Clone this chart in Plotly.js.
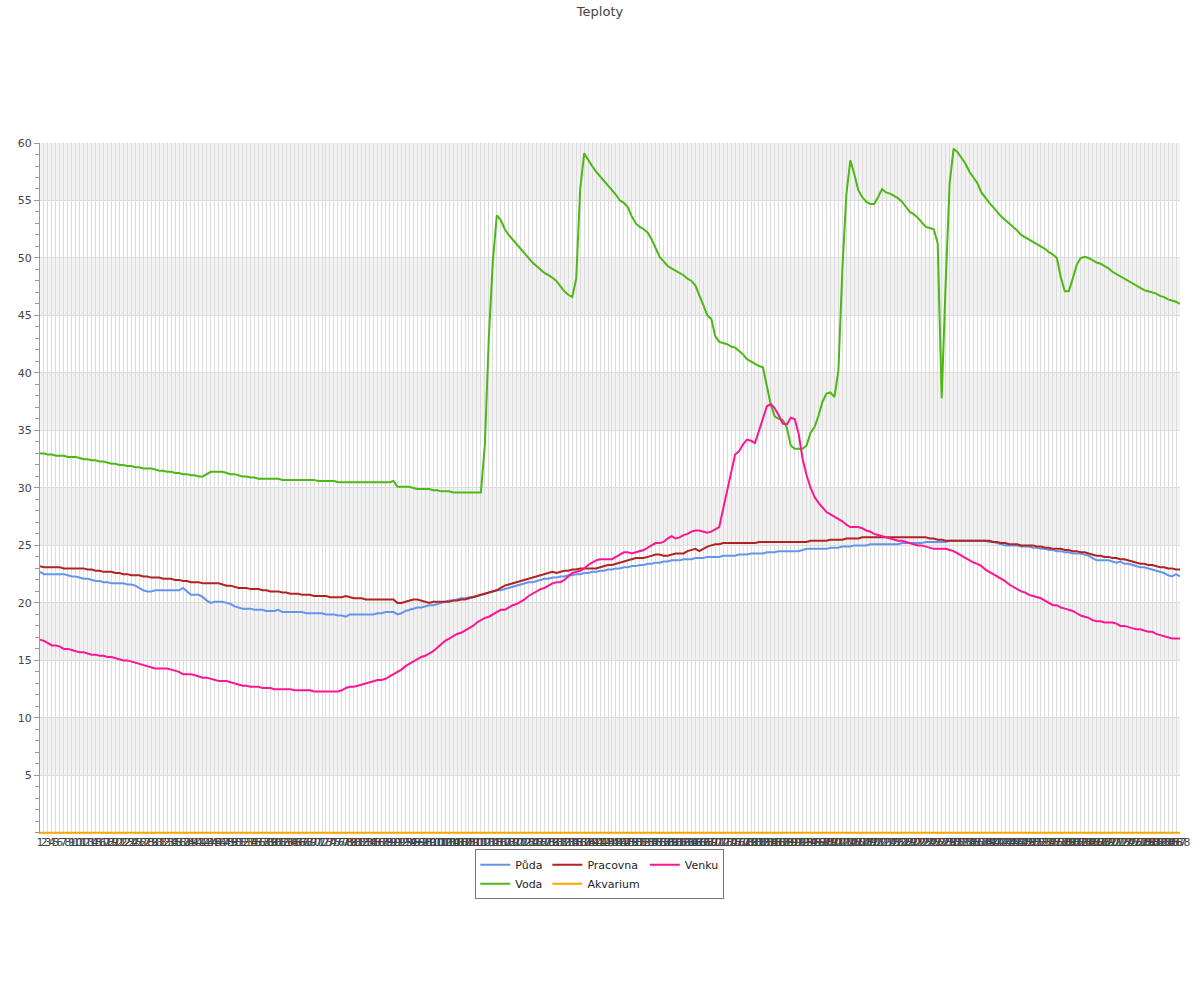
<!DOCTYPE html>
<html>
<head>
<meta charset="utf-8">
<script src="https://cdn.plot.ly/plotly-3.0.1.min.js"></script>
<style>html,body{margin:0;padding:0;background:#fff;}#chart{width:1200px;height:1000px;}</style>
</head>
<body>
<div id="chart"></div>
<script>
const xCats = [
1,2,3,4,5,6,7,8,9,10,11,12,13,14,15,16,17,18,19,20,
21,22,23,24,25,26,27,28,29,30,31,32,33,34,35,36,37,38,39,40,
41,42,43,44,45,46,47,48,49,50,51,52,53,54,55,56,57,58,59,60,
61,62,63,64,65,66,67,68,69,70,71,72,73,74,75,76,77,78,79,80,
81,82,83,84,85,86,87,88,89,90,91,92,93,94,95,96,97,98,99,100,
101,102,103,104,105,106,107,108,109,110,111,112,113,114,115,116,117,118,119,120,
121,122,123,124,125,126,127,128,129,130,131,132,133,134,135,136,137,138,139,140,
141,142,143,144,145,146,147,148,149,150,151,152,153,154,155,156,157,158,159,160,
161,162,163,164,165,166,167,168,169,170,171,172,173,174,175,176,177,178,179,180,
181,182,183,184,185,186,187,188,189,190,191,192,193,194,195,196,197,198,199,200,
201,202,203,204,205,206,207,208,209,210,211,212,213,214,215,216,217,218,219,220,
221,222,223,224,225,226,227,228,229,230,231,232,233,234,235,236,237,238,239,240,
241,242,243,244,245,246,247,248,249,250,251,252,253,254,255,256,257,258,259,260,
261,262,263,264,265,266,267,268,269,270,271,272,273,274,275,276,277,278,279,280,
281,282,283,284,285,286,287,288
];

const yTicks = [5, 10, 15, 20, 25, 30, 35, 40, 45, 50, 55, 60];

const puda = [
22.7,22.5,22.5,22.5,22.5,22.5,22.5,22.4,22.3,22.3,
22.2,22.1,22.1,22.0,21.9,21.9,21.8,21.8,21.7,21.7,
21.7,21.7,21.6,21.6,21.5,21.3,21.1,21.0,21.0,21.1,
21.1,21.1,21.1,21.1,21.1,21.1,21.3,21.0,20.7,20.7,
20.7,20.5,20.2,20.0,20.1,20.1,20.1,20.0,19.9,19.7,
19.6,19.5,19.5,19.5,19.4,19.4,19.4,19.3,19.3,19.3,
19.4,19.2,19.2,19.2,19.2,19.2,19.2,19.1,19.1,19.1,
19.1,19.1,19.0,19.0,19.0,18.9,18.9,18.8,19.0,19.0,
19.0,19.0,19.0,19.0,19.0,19.1,19.1,19.2,19.2,19.2,
19.0,19.1,19.3,19.4,19.5,19.6,19.6,19.7,19.8,19.8,
19.9,20.0,20.1,20.2,20.2,20.3,20.4,20.4,20.5,20.5,
20.6,20.7,20.8,20.9,21.0,21.1,21.1,21.2,21.3,21.4,
21.5,21.6,21.7,21.8,21.8,21.9,22.0,22.1,22.1,22.2,
22.2,22.3,22.3,22.4,22.4,22.5,22.5,22.6,22.6,22.7,
22.7,22.8,22.8,22.9,22.9,23.0,23.0,23.1,23.1,23.2,
23.2,23.3,23.3,23.4,23.4,23.5,23.5,23.6,23.6,23.7,
23.7,23.7,23.8,23.8,23.8,23.9,23.9,23.9,24.0,24.0,
24.0,24.0,24.1,24.1,24.1,24.1,24.2,24.2,24.2,24.3,
24.3,24.3,24.3,24.4,24.4,24.4,24.5,24.5,24.5,24.5,
24.5,24.5,24.6,24.7,24.7,24.7,24.7,24.7,24.7,24.8,
24.8,24.8,24.9,24.9,24.9,25.0,25.0,25.0,25.0,25.1,
25.1,25.1,25.1,25.1,25.1,25.1,25.1,25.2,25.2,25.2,
25.2,25.2,25.2,25.3,25.3,25.3,25.3,25.3,25.3,25.4,
25.4,25.4,25.4,25.4,25.4,25.4,25.4,25.4,25.4,25.3,
25.3,25.2,25.1,25.0,25.0,25.0,25.0,24.9,24.9,24.9,
24.8,24.8,24.7,24.7,24.6,24.6,24.5,24.5,24.4,24.4,
24.3,24.3,24.3,24.2,24.1,23.9,23.7,23.7,23.7,23.7,
23.6,23.5,23.6,23.4,23.4,23.3,23.2,23.1,23.1,23.0,
22.9,22.8,22.7,22.6,22.4,22.3,22.5,22.3
];

const voda = [
33.0,33.0,32.9,32.9,32.8,32.8,32.8,32.7,32.7,32.7,
32.6,32.5,32.5,32.4,32.4,32.3,32.3,32.2,32.1,32.1,
32.0,32.0,31.9,31.9,31.8,31.8,31.7,31.7,31.7,31.6,
31.5,31.5,31.4,31.4,31.3,31.3,31.2,31.2,31.1,31.1,
31.0,31.0,31.2,31.4,31.4,31.4,31.4,31.3,31.2,31.2,
31.1,31.0,31.0,30.9,30.9,30.8,30.8,30.8,30.8,30.8,
30.8,30.7,30.7,30.7,30.7,30.7,30.7,30.7,30.7,30.7,
30.6,30.6,30.6,30.6,30.6,30.5,30.5,30.5,30.5,30.5,
30.5,30.5,30.5,30.5,30.5,30.5,30.5,30.5,30.5,30.6,
30.1,30.1,30.1,30.1,30.0,29.9,29.9,29.9,29.9,29.8,
29.8,29.7,29.7,29.7,29.6,29.6,29.6,29.6,29.6,29.6,
29.6,29.6,33.8,43.1,49.7,53.7,53.3,52.5,52.0,51.6,
51.2,50.8,50.4,50.0,49.6,49.3,49.0,48.7,48.5,48.3,
48.0,47.5,47.1,46.8,46.6,48.2,56.0,59.1,58.5,58.0,
57.5,57.1,56.7,56.3,55.9,55.5,55.0,54.8,54.4,53.6,
53.0,52.7,52.5,52.2,51.6,50.8,50.1,49.7,49.3,49.1,
48.9,48.7,48.5,48.2,48.0,47.6,46.8,45.9,45.0,44.7,
43.2,42.7,42.6,42.5,42.3,42.2,41.9,41.6,41.2,41.0,
40.8,40.6,40.5,38.8,37.2,36.2,36.0,35.9,35.3,33.7,
33.4,33.4,33.4,33.7,34.8,35.3,36.3,37.5,38.2,38.3,
37.9,40.2,49.0,55.5,58.5,57.3,55.9,55.3,54.9,54.7,
54.7,55.3,56.0,55.7,55.6,55.4,55.2,54.9,54.5,54.0,
53.8,53.5,53.1,52.7,52.6,52.5,51.3,37.8,47.7,56.5,
59.5,59.2,58.7,58.2,57.5,57.0,56.5,55.7,55.2,54.8,
54.4,54.0,53.6,53.3,53.0,52.7,52.4,52.0,51.8,51.6,
51.4,51.2,51.0,50.8,50.5,50.3,50.0,48.3,47.1,47.1,
48.2,49.4,50.0,50.1,50.0,49.8,49.6,49.5,49.3,49.1,
48.8,48.6,48.4,48.2,48.0,47.8,47.6,47.4,47.2,47.1,
47.0,46.9,46.7,46.6,46.4,46.3,46.2,46.0
];

const pracovna = [
23.2,23.1,23.1,23.1,23.1,23.1,23.0,23.0,23.0,23.0,
23.0,23.0,22.9,22.9,22.8,22.8,22.7,22.7,22.7,22.6,
22.6,22.5,22.5,22.4,22.4,22.4,22.3,22.3,22.2,22.2,
22.2,22.1,22.1,22.1,22.0,22.0,21.9,21.9,21.8,21.8,
21.8,21.7,21.7,21.7,21.7,21.7,21.6,21.5,21.5,21.4,
21.3,21.3,21.3,21.2,21.2,21.2,21.1,21.1,21.0,21.0,
21.0,20.9,20.9,20.8,20.8,20.8,20.7,20.7,20.7,20.6,
20.6,20.6,20.6,20.5,20.5,20.5,20.5,20.6,20.5,20.4,
20.4,20.4,20.3,20.3,20.3,20.3,20.3,20.3,20.3,20.3,
20.0,20.0,20.1,20.2,20.3,20.3,20.2,20.1,20.0,20.1,
20.1,20.1,20.1,20.1,20.2,20.2,20.3,20.3,20.4,20.5,
20.6,20.7,20.8,20.9,21.0,21.1,21.3,21.5,21.6,21.7,
21.8,21.9,22.0,22.1,22.2,22.3,22.4,22.5,22.6,22.7,
22.6,22.7,22.8,22.8,22.9,22.9,23.0,23.0,23.0,23.0,
23.0,23.1,23.2,23.3,23.3,23.4,23.5,23.6,23.7,23.8,
23.9,23.9,23.9,24.0,24.1,24.2,24.2,24.1,24.1,24.2,
24.3,24.3,24.3,24.5,24.6,24.7,24.5,24.7,24.9,25.0,
25.1,25.1,25.2,25.2,25.2,25.2,25.2,25.2,25.2,25.2,
25.2,25.3,25.3,25.3,25.3,25.3,25.3,25.3,25.3,25.3,
25.3,25.3,25.3,25.3,25.4,25.4,25.4,25.4,25.4,25.5,
25.5,25.5,25.5,25.6,25.6,25.6,25.6,25.7,25.7,25.7,
25.7,25.7,25.7,25.7,25.7,25.7,25.7,25.7,25.7,25.7,
25.7,25.7,25.7,25.7,25.6,25.6,25.5,25.5,25.4,25.4,
25.4,25.4,25.4,25.4,25.4,25.4,25.4,25.4,25.4,25.4,
25.3,25.3,25.2,25.2,25.1,25.1,25.1,25.0,25.0,25.0,
25.0,24.9,24.9,24.8,24.8,24.7,24.7,24.7,24.6,24.6,
24.5,24.5,24.4,24.4,24.3,24.2,24.1,24.1,24.0,24.0,
23.9,23.9,23.8,23.8,23.7,23.6,23.5,23.4,23.4,23.3,
23.3,23.2,23.1,23.1,23.0,23.0,22.9,22.9
];

const akvarium = [
0,0,0,0,0,0,0,0,0,0,0,0,0,0,0,0,0,0,0,0,0,0,0,0,0,0,0,0,0,0,
0,0,0,0,0,0,0,0,0,0,0,0,0,0,0,0,0,0,0,0,0,0,0,0,0,0,0,0,0,0,
0,0,0,0,0,0,0,0,0,0,0,0,0,0,0,0,0,0,0,0,0,0,0,0,0,0,0,0,0,0,
0,0,0,0,0,0,0,0,0,0,0,0,0,0,0,0,0,0,0,0,0,0,0,0,0,0,0,0,0,0,
0,0,0,0,0,0,0,0,0,0,0,0,0,0,0,0,0,0,0,0,0,0,0,0,0,0,0,0,0,0,
0,0,0,0,0,0,0,0,0,0,0,0,0,0,0,0,0,0,0,0,0,0,0,0,0,0,0,0,0,0,
0,0,0,0,0,0,0,0,0,0,0,0,0,0,0,0,0,0,0,0,0,0,0,0,0,0,0,0,0,0,
0,0,0,0,0,0,0,0,0,0,0,0,0,0,0,0,0,0,0,0,0,0,0,0,0,0,0,0,0,0,
0,0,0,0,0,0,0,0,0,0,0,0,0,0,0,0,0,0,0,0,0,0,0,0,0,0,0,0,0,0,
0,0,0,0,0,0,0,0,0,0,0,0,0,0,0,0,0,0
];

const venku = [
16.8,16.7,16.5,16.3,16.3,16.2,16.0,16.0,15.9,15.8,
15.7,15.7,15.6,15.5,15.5,15.4,15.4,15.3,15.3,15.2,
15.1,15.0,15.0,14.9,14.8,14.7,14.6,14.5,14.4,14.3,
14.3,14.3,14.3,14.2,14.1,14.0,13.8,13.8,13.8,13.7,
13.6,13.5,13.5,13.4,13.3,13.2,13.2,13.2,13.1,13.0,
12.9,12.8,12.8,12.7,12.7,12.7,12.6,12.6,12.6,12.5,
12.5,12.5,12.5,12.5,12.4,12.4,12.4,12.4,12.4,12.3,
12.3,12.3,12.3,12.3,12.3,12.3,12.4,12.6,12.7,12.7,
12.8,12.9,13.0,13.1,13.2,13.3,13.3,13.4,13.6,13.8,
14.0,14.2,14.5,14.7,14.9,15.1,15.3,15.4,15.6,15.8,
16.1,16.4,16.7,16.9,17.1,17.3,17.4,17.6,17.8,18.0,
18.3,18.5,18.7,18.8,19.0,19.2,19.4,19.4,19.6,19.8,
19.9,20.1,20.3,20.6,20.8,21.0,21.2,21.3,21.5,21.7,
21.8,21.8,22.0,22.3,22.6,22.7,22.8,23.0,23.3,23.5,
23.7,23.8,23.8,23.8,23.8,24.0,24.2,24.4,24.4,24.3,
24.4,24.5,24.6,24.8,25.0,25.2,25.2,25.3,25.6,25.8,
25.6,25.7,25.9,26.0,26.2,26.3,26.3,26.2,26.1,26.2,
26.4,26.6,28.2,29.8,31.4,32.9,33.2,33.8,34.2,34.1,
33.9,34.9,36.0,37.1,37.3,36.9,36.3,35.6,35.5,36.1,
36.0,34.7,32.5,31.1,30.0,29.2,28.7,28.3,27.9,27.7,
27.5,27.3,27.1,26.8,26.6,26.6,26.6,26.5,26.3,26.2,
26.0,25.9,25.8,25.7,25.6,25.5,25.4,25.4,25.3,25.2,
25.1,25.0,25.0,24.9,24.8,24.7,24.7,24.7,24.7,24.6,
24.5,24.3,24.1,23.9,23.7,23.5,23.4,23.2,22.9,22.7,
22.5,22.3,22.1,21.9,21.6,21.4,21.2,21.0,20.9,20.7,
20.6,20.5,20.4,20.2,20.0,19.8,19.8,19.6,19.5,19.4,
19.3,19.1,18.9,18.8,18.7,18.5,18.4,18.4,18.3,18.3,
18.3,18.2,18.0,18.0,17.9,17.8,17.7,17.7,17.6,17.5,
17.5,17.3,17.2,17.1,17.0,16.9,16.9,16.9
];

const seriesNames = ["Půda", "Voda", "Pracovna", "Akvarium", "Venku"];
const seriesColors = ["#6495ed", "#4cb814", "#b22222", "#ffa500", "#ff1493"];
const seriesGroups = ["g1", "g1", "g2", "g2", "g3"];
const seriesData = [puda, voda, pracovna, akvarium, venku];
const bandRanges = [[55, 60], [45, 50], [35, 40], [25, 30], [15, 20], [5, 10]];

const traces = seriesData.map((ys, k) => ({
  x: xCats,
  y: ys,
  type: "scatter",
  mode: "lines",
  name: seriesNames[k],
  legendgroup: seriesGroups[k],
  line: { color: seriesColors[k], width: 2 },
  hoverinfo: "x+y+name"
}));

const shapes = bandRanges.map(r => ({
  type: "rect", xref: "paper", x0: 0, x1: 1, yref: "y", y0: r[0], y1: r[1],
  fillcolor: "#f2f2f2", line: { width: 0 }, layer: "below"
}));

const layout = {
  width: 1200,
  height: 1000,
  margin: { l: 40, r: 20, t: 143, b: 166, pad: 0 },
  paper_bgcolor: "#ffffff",
  plot_bgcolor: "#ffffff",
  font: { family: "DejaVu Sans, sans-serif", size: 11, color: "#444444" },
  title: {
    text: "Teploty",
    font: { family: "DejaVu Sans, sans-serif", size: 13, color: "#444444" },
    x: 0.5, xref: "container", y: 0.989, yref: "container", yanchor: "middle"
  },
  showlegend: true,
  legend: {
    orientation: "h",
    traceorder: "grouped",
    tracegroupgap: 0,
    x: 0.491, xanchor: "center", xref: "paper",
    y: -0.022, yanchor: "top", yref: "paper",
    bgcolor: "#ffffff",
    bordercolor: "#777777",
    borderwidth: 1,
    itemwidth: 30,
    font: { family: "DejaVu Sans, sans-serif", size: 11, color: "#222222" }
  },
  xaxis: {
    type: "linear",
    range: [1, 288],
    tickmode: "array",
    tickvals: xCats,
    ticktext: xCats.map(String),
    tickangle: 0,
    ticks: "",
    showgrid: true,
    gridcolor: "#dcdcdc",
    gridwidth: 1,
    zeroline: false,
    showline: false,
    tickfont: { family: "DejaVu Sans, sans-serif", size: 11, color: "#444444" },
    fixedrange: true
  },
  yaxis: {
    range: [-0.1, 60],
    tickmode: "array",
    tickvals: yTicks,
    ticktext: yTicks.map(String),
    ticks: "outside",
    ticklen: 5,
    tickcolor: "#999999",
    showline: true,
    linecolor: "#999999",
    linewidth: 1,
    showgrid: true,
    gridcolor: "#dcdcdc",
    zeroline: false,
    minor: { tickmode: "linear", tick0: 0, dtick: 1, ticks: "outside", ticklen: 4, tickcolor: "#999999", showgrid: false },
    tickfont: { family: "DejaVu Sans, sans-serif", size: 11, color: "#444444" },
    showticklabels: true,
    fixedrange: true
  },
  shapes: shapes
};

Plotly.newPlot("chart", traces, layout, { displayModeBar: false, staticPlot: true });
</script>
</body>
</html>
